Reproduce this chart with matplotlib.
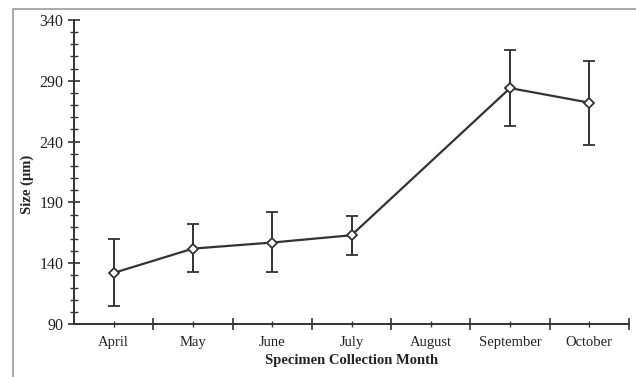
import matplotlib
matplotlib.use("Agg")
import matplotlib.pyplot as plt
from matplotlib.patches import Rectangle
import numpy as np

months = ["April", "May", "June", "July", "August", "September", "October"]
sizes = [132, 152, 157, 163, np.nan, 284, 272]
err_low = [27.5, 19, 24.5, 16, np.nan, 31.5, 34.5]
err_high = [28, 20, 25, 16, np.nan, 31.5, 34]

plt.rcParams['font.family'] = ['Liberation Serif', 'DejaVu Serif']

fig = plt.figure(figsize=(6.36, 3.77), dpi=100)
fig.patches.append(Rectangle((13/636, -0.2), 2, (377-9)/377 + 0.2,
                             transform=fig.transFigure, fill=False,
                             edgecolor='#999999', linewidth=1.2))
ax = fig.add_axes([74/636, (377-324)/377, (629-74)/636, (324-20)/377])

x = np.arange(len(months))
vals = np.array(sizes, dtype=float)
lo = np.array(err_low, dtype=float)
hi = np.array(err_high, dtype=float)
mask = ~np.isnan(vals)
c = '#333333'
ax.errorbar(x[mask], vals[mask], yerr=[lo[mask], hi[mask]], fmt='D-', color=c,
            ecolor=c, elinewidth=1.4, capsize=4, capthick=1.4, lw=1.6,
            markersize=5, markerfacecolor='white', markeredgecolor=c,
            markeredgewidth=1.3, zorder=3)

ax.set_xlim(-0.5, 6.5)
ax.set_ylim(90, 340)
ax.set_yticks(np.arange(90, 341, 50))
ax.set_yticks(np.arange(90, 341, 10), minor=True)
ax.set_xticks(x)
ax.set_xticklabels(months)
ax.set_xticks(np.arange(0.5, 6.6, 1), minor=True)
for s in ['top', 'right']:
    ax.spines[s].set_visible(False)
for s in ['left', 'bottom']:
    ax.spines[s].set_color(c)
    ax.spines[s].set_linewidth(1.4)
ax.tick_params(axis='y', which='major', direction='inout', length=9, width=1.2,
               color=c, labelsize=11.5, pad=3)
ax.tick_params(axis='y', which='minor', direction='inout', length=6, width=1.0, color=c)
ax.tick_params(axis='x', which='major', direction='inout', length=5, width=1.0,
               color=c, labelsize=10.5, pad=6)
ax.tick_params(axis='x', which='minor', direction='inout', length=9, width=1.2, color=c)
for lab in ax.get_xticklabels() + ax.get_yticklabels():
    lab.set_color('#222222')
ax.set_xlabel("Specimen Collection Month", fontsize=10.5, fontweight='bold',
              color='#222222', labelpad=4)
ax.set_ylabel("Size (μm)", fontsize=10.5, fontweight='bold', color='#222222')
ax.yaxis.set_label_coords(-0.072, 0.46)

fig.savefig("out.png", dpi=100)
